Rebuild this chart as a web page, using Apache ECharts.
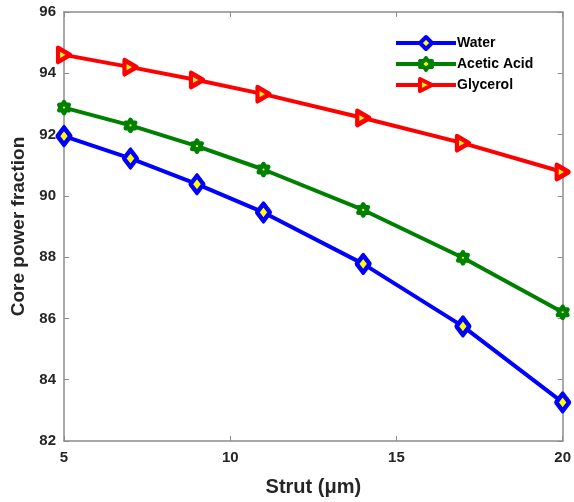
<!DOCTYPE html>
<html>
<head>
<meta charset="utf-8">
<script src="https://cdn.jsdelivr.net/npm/echarts@6/dist/echarts.min.js"></script>
<style>
html,body{margin:0;padding:0;background:#fff;}
#chart{width:574px;height:502px;}
</style>
</head>
<body>
<div id="chart"></div>
<script>
// Strut width (µm) on the x axis
const strut = [5, 7, 9, 11, 14, 17, 20];
// Core power fraction (%) for each analyte
const water = [91.95, 91.22, 90.38, 89.46, 87.78, 85.74, 83.26];
const aceticAcid = [92.88, 92.30, 91.62, 90.86, 89.54, 87.98, 86.20];
const glycerol = [94.60, 94.20, 93.78, 93.32, 92.54, 91.72, 90.78];
const seriesNames = ['Water', 'Acetic Acid', 'Glycerol'];
const xTicks = [5, 10, 15, 20];
const yTicks = [82, 84, 86, 88, 90, 92, 94, 96];

// six-pointed star marker
const hexagram = 'path://M0,-10 L2.887,-5 L8.66,-5 L5.774,0 L8.66,5 L2.887,5 L0,10 L-2.887,5 L-8.66,5 L-5.774,0 L-8.66,-5 L-2.887,-5 Z';

const pair = ys => strut.map((x, i) => [x, ys[i]]);
const axisGray = '#8c8c8c';
const textDark = '#262626';
const font = 'Liberation Sans, Arial, sans-serif';

function mkSeries(name, ys, color, symbol, size, rotate) {
  return {
    name: name,
    type: 'line',
    data: pair(ys),
    symbol: symbol,
    symbolSize: size,
    symbolRotate: rotate || 0,
    symbolKeepAspect: true,
    showAllSymbol: true,
    lineStyle: { color: color, width: 4 },
    itemStyle: { color: '#ffff00', borderColor: color, borderWidth: 4.5, borderJoin: 'round' },
    emphasis: { disabled: true },
    z: 3
  };
}

function boxAxis(extra) {
  return Object.assign({
    axisLine: { show: true, lineStyle: { color: axisGray, width: 1.5 } },
    axisTick: { show: true, inside: true, length: 5, lineStyle: { color: axisGray } },
    splitLine: { show: false }
  }, extra);
}

const chart = echarts.init(document.getElementById('chart'), null, { renderer: 'canvas' });
chart.setOption({
  animation: false,
  backgroundColor: '#fff',
  grid: { left: 64, right: 9, top: 12, bottom: 61, containLabel: false },
  legend: {
    orient: 'vertical',
    left: 390,
    top: 33,
    itemWidth: 60,
    itemHeight: 15,
    itemGap: 5,
    data: seriesNames,
    backgroundColor: '#fff',
    padding: [2, 6, 2, 4],
    lineStyle: { width: 4 },
    itemStyle: { borderWidth: 4 },
    textStyle: { fontFamily: font, fontWeight: 'bold', fontSize: 14, color: '#000', padding: [0, 0, 0, -4] }
  },
  xAxis: [
    boxAxis({
      type: 'value', min: xTicks[0], max: xTicks[xTicks.length - 1], interval: 5,
      name: 'Strut (\u03bcm)', nameLocation: 'middle', nameGap: 36,
      nameTextStyle: { fontFamily: font, fontWeight: 'bold', fontSize: 20, color: textDark },
      axisLabel: { fontFamily: font, fontWeight: 'bold', fontSize: 15, color: textDark, margin: 9 }
    }),
    boxAxis({
      type: 'value', position: 'top', min: xTicks[0], max: xTicks[xTicks.length - 1], interval: 5,
      axisLabel: { show: false }
    })
  ],
  yAxis: [
    boxAxis({
      type: 'value', min: yTicks[0], max: yTicks[yTicks.length - 1], interval: 2,
      name: 'Core power fraction', nameLocation: 'middle', nameGap: 34,
      nameTextStyle: { fontFamily: font, fontWeight: 'bold', fontSize: 19, color: textDark },
      axisLabel: { fontFamily: font, fontWeight: 'bold', fontSize: 15, color: textDark, margin: 8 }
    }),
    boxAxis({
      type: 'value', position: 'right', min: yTicks[0], max: yTicks[yTicks.length - 1], interval: 2,
      axisLabel: { show: false }
    })
  ],
  series: [
    mkSeries(seriesNames[0], water, '#0000ff', 'diamond', [13, 17]),
    mkSeries(seriesNames[1], aceticAcid, '#008000', hexagram, 11),
    mkSeries(seriesNames[2], glycerol, '#ff0000', 'triangle', [14, 12], -90)
  ]
});
</script>
</body>
</html>
